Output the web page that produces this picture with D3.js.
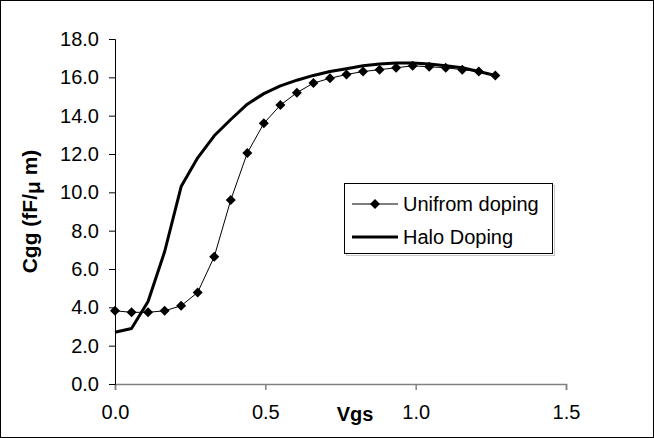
<!DOCTYPE html>
<html>
<head>
<meta charset="utf-8">
<script src="https://cdnjs.cloudflare.com/ajax/libs/d3/7.8.5/d3.min.js"></script>
<style>
  body { margin: 0; background: #fff; }
  svg text { font-family: "Liberation Sans", Arial, sans-serif; fill: #000; }
</style>
</head>
<body>
<div id="chart"></div>
<script>
// Vgs positions of the points
const vgs = [0, 0.055, 0.11, 0.165, 0.22, 0.275, 0.33, 0.385, 0.44, 0.495, 0.55, 0.605,
             0.66, 0.715, 0.77, 0.825, 0.88, 0.935, 0.99, 1.045, 1.10, 1.155, 1.21, 1.265];

// Cgg (fF/um)
const uniformCgg = [3.82, 3.74, 3.74, 3.82, 4.08, 4.78, 6.64, 9.6, 12.05, 13.6, 14.55, 15.2,
                    15.7, 15.95, 16.15, 16.3, 16.4, 16.5, 16.6, 16.55, 16.5, 16.4, 16.3, 16.1];
const haloCgg = [2.7, 2.9, 4.3, 6.9, 10.3, 11.8, 12.95, 13.8, 14.6, 15.15, 15.55, 15.85,
                 16.1, 16.3, 16.45, 16.6, 16.7, 16.75, 16.75, 16.7, 16.6, 16.5, 16.3, 16.1];

const xTicks = [0, 0.5, 1.0, 1.5];
const yTicks = [0, 2, 4, 6, 8, 10, 12, 14, 16, 18];
const seriesNames = ["Unifrom doping", "Halo Doping"];

const width = 654, height = 438;
const margin = { top: 39, right: 88, bottom: 54, left: 115 };

const svg = d3.select("#chart").append("svg")
    .attr("width", width)
    .attr("height", height);

// outer chart border
svg.append("rect")
    .attr("x", 0.5).attr("y", 0.5)
    .attr("width", width - 1).attr("height", height - 1)
    .attr("fill", "#fff")
    .attr("stroke", "#000");

const x = d3.scaleLinear().domain([0, 1.5]).range([margin.left, width - margin.right]);
const y = d3.scaleLinear().domain([0, 18]).range([height - margin.bottom, margin.top]);

// x axis (grey line, ticks down)
const xAxis = svg.append("g")
    .attr("transform", `translate(0,${y(0)})`)
    .call(d3.axisBottom(x).tickValues(xTicks).tickFormat(d3.format(".1f")).tickSize(6).tickPadding(15));
xAxis.select(".domain").attr("stroke", "#808080").attr("stroke-width", 1.5);
xAxis.selectAll(".tick line").attr("stroke", "#808080").attr("stroke-width", 1.5);
xAxis.selectAll("text").style("font-size", "20px").attr("fill", "#000");

// y axis
const yAxis = svg.append("g")
    .attr("transform", `translate(${x(0)},0)`)
    .call(d3.axisLeft(y).tickValues(yTicks).tickFormat(d3.format(".1f")).tickSize(6).tickPadding(10));
yAxis.select(".domain").attr("stroke", "#000");
yAxis.selectAll(".tick line").attr("stroke", "#000");
yAxis.selectAll("text").style("font-size", "20px").attr("fill", "#000");

// axis titles
svg.append("text")
    .attr("x", 355).attr("y", 421)
    .attr("text-anchor", "middle")
    .style("font-size", "20px").style("font-weight", "bold")
    .text("Vgs");

const yTitle = svg.append("text")
    .attr("transform", `translate(37,${(y(0) + y(18)) / 2}) rotate(-90)`)
    .attr("text-anchor", "middle")
    .style("font-size", "21px").style("font-weight", "bold");
yTitle.append("tspan").text("Cgg (fF/");
yTitle.append("tspan").attr("dy", 3).text("μ");
yTitle.append("tspan").attr("dy", -3).text(" m)");

const line = d3.line()
    .x((d, i) => x(vgs[i]))
    .y(d => y(d));

// halo doping: thick line, no markers
svg.append("path")
    .datum(haloCgg)
    .attr("fill", "none")
    .attr("stroke", "#000")
    .attr("stroke-width", 3)
    .attr("stroke-linejoin", "round")
    .attr("d", line);

// uniform doping: thin line with diamond markers
svg.append("path")
    .datum(uniformCgg)
    .attr("fill", "none")
    .attr("stroke", "#000")
    .attr("stroke-width", 1)
    .attr("d", line);

const diamond = d3.symbol().type(d3.symbolSquare).size(50);
svg.append("g").selectAll("path")
    .data(uniformCgg)
    .enter().append("path")
    .attr("d", diamond)
    .attr("fill", "#000")
    .attr("transform", (d, i) => `translate(${x(vgs[i])},${y(d)}) rotate(45)`);

// legend
const legend = svg.append("g").attr("transform", "translate(344,183)");
legend.append("rect")
    .attr("x", 2.5).attr("y", 2.5)
    .attr("width", 208).attr("height", 70)
    .attr("fill", "none").attr("stroke", "#c8c8c8");
legend.append("rect")
    .attr("x", 0.5).attr("y", 0.5)
    .attr("width", 208).attr("height", 70)
    .attr("fill", "#fff").attr("stroke", "#000");

const rows = [21, 54];
seriesNames.forEach((name, i) => {
    legend.append("line")
        .attr("x1", 8).attr("x2", 54)
        .attr("y1", rows[i]).attr("y2", rows[i])
        .attr("stroke", "#000")
        .attr("stroke-width", i === 0 ? 1 : 3);
    if (i === 0) {
        legend.append("path")
            .attr("d", diamond)
            .attr("fill", "#000")
            .attr("transform", `translate(31,${rows[i]}) rotate(45)`);
    }
    legend.append("text")
        .attr("x", 59).attr("y", rows[i] + 7)
        .style("font-size", "20px")
        .text(name);
});
</script>
</body>
</html>
